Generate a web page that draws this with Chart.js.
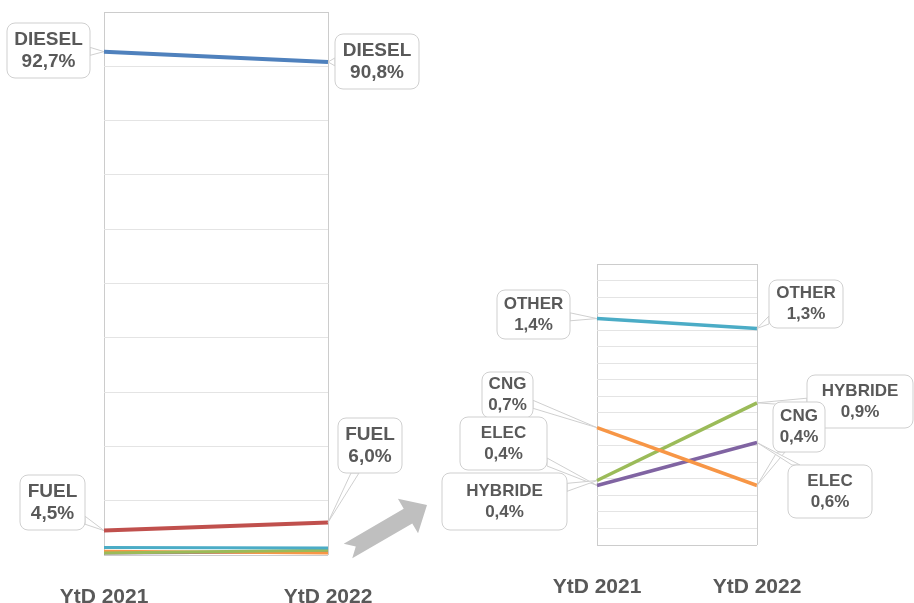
<!DOCTYPE html>
<html lang="fr">
<head>
<meta charset="UTF-8">
<title>Fuel mix YtD 2021 vs YtD 2022</title>
<script src="https://cdn.jsdelivr.net/npm/chart.js"></script>
<style>
  body { margin: 0; background: #fff; }
  #wrap { position: relative; width: 914px; height: 603px; }
  #leftBox { position: absolute; left: 0; top: 0; }
  #rightBox { position: absolute; left: 430px; top: 0; }
</style>
</head>
<body>
<div id="wrap">
  <div id="leftBox"><canvas id="allChart" width="460" height="603"></canvas></div>
  <div id="rightBox"><canvas id="zoomChart" width="484" height="603"></canvas></div>
</div>
<script>
// values (%)
const years = ["YtD 2021", "YtD 2022"];
const diesel = [92.7, 90.8];
const fuel = [4.5, 6.0];
const other = [1.37, 1.31];
const cng = [0.71, 0.36];
const elec = [0.36, 0.62];
const hybride = [0.39, 0.86];

const FONT = '"Liberation Sans", Arial, sans-serif';
const TEXT = "#595959";

function pct(v) {
    return v.toFixed(1).replace(".", ",") + "%";
}

function line(label, data, color, width) {
    return {
        label: label, data: data, borderColor: color, backgroundColor: color,
        borderWidth: width, pointRadius: 0, tension: 0, clip: false
    };
}

function rrect(ctx, x, y, w, h, r) {
    ctx.beginPath();
    ctx.moveTo(x + r, y);
    ctx.arcTo(x + w, y, x + w, y + h, r);
    ctx.arcTo(x + w, y + h, x, y + h, r);
    ctx.arcTo(x, y + h, x, y, r);
    ctx.arcTo(x, y, x + w, y, r);
    ctx.closePath();
}

// callout boxes with a thin pointer to the end of a line
function makeCallouts(items, size, gap) {
    return {
        id: "callouts",
        afterDatasetsDraw(chart) {
            const ctx = chart.ctx;
            const xs = chart.scales.x, ys = chart.scales.y;
            ctx.save();
            items.forEach(it => {
                const tx = xs.getPixelForValue(it.i);
                const ty = ys.getPixelForValue(it.data[it.i]);
                const [bx, by, bw, bh] = it.box;
                const cx = bx + bw / 2, cy = by + bh / 2;
                // where the ray centre -> target leaves the box
                const dx = tx - cx, dy = ty - cy;
                const sx = Math.abs(dx) > 0 ? (bw / 2) / Math.abs(dx) : Infinity;
                const sy = Math.abs(dy) > 0 ? (bh / 2) / Math.abs(dy) : Infinity;
                const s = Math.min(sx, sy);
                const ex = cx + dx * s, ey = cy + dy * s;
                let p1, p2;
                if (sx < sy) {
                    const yy = Math.max(by + 8, Math.min(by + bh - 8, ey));
                    p1 = [ex, yy - 4]; p2 = [ex, yy + 4];
                } else {
                    const xx = Math.max(bx + 8, Math.min(bx + bw - 8, ex));
                    p1 = [xx - 4, ey]; p2 = [xx + 4, ey];
                }
                ctx.beginPath();
                ctx.moveTo(p1[0], p1[1]);
                ctx.lineTo(tx, ty);
                ctx.lineTo(p2[0], p2[1]);
                ctx.closePath();
                ctx.fillStyle = "#fff";
                ctx.fill();
                ctx.strokeStyle = "#cfcfcf";
                ctx.lineWidth = 1;
                ctx.stroke();

                rrect(ctx, bx, by, bw, bh, 8);
                ctx.fillStyle = "#fff";
                ctx.fill();
                ctx.stroke();

                ctx.fillStyle = TEXT;
                ctx.font = "bold " + size + "px " + FONT;
                ctx.textAlign = "center";
                ctx.textBaseline = "middle";
                ctx.fillText(it.name, cx, cy - gap / 2);
                ctx.fillText(pct(it.data[it.i]), cx, cy + gap / 2);
            });
            ctx.restore();
        }
    };
}

// grey block arrow pointing to the zoomed chart
const arrowPlugin = {
    id: "arrow",
    afterDraw(chart) {
        const ctx = chart.ctx;
        const x0 = 348, y0 = 551, x1 = 427, y1 = 505;
        const a = Math.atan2(y1 - y0, x1 - x0);
        const L = Math.hypot(x1 - x0, y1 - y0);
        const pts = [[0, -8.5], [L - 22, -8.5], [L - 22, -20], [L, 0], [L - 22, 20], [L - 22, 8.5], [0, 8.5], [9, 0]];
        ctx.save();
        ctx.translate(x0, y0);
        ctx.rotate(a);
        ctx.beginPath();
        pts.forEach((p, k) => k ? ctx.lineTo(p[0], p[1]) : ctx.moveTo(p[0], p[1]));
        ctx.closePath();
        ctx.fillStyle = "#bfbfbf";
        ctx.fill();
        ctx.restore();
    }
};

function scales(max, step, xHeight, pad) {
    return {
        x: {
            type: "category",
            offset: false,
            grid: { color: "#cccccc", drawTicks: false },
            border: { display: false },
            ticks: {
                color: TEXT, padding: pad, maxRotation: 0, autoSkip: false,
                font: { family: FONT, size: 21, weight: "bold" }
            },
            afterFit: s => { s.height = xHeight; }
        },
        y: {
            min: 0, max: max,
            ticks: { display: false, stepSize: step },
            grid: {
                drawTicks: false,
                color: c => (Math.abs(c.tick.value - max) < 1e-6 || c.tick.value === 0) ? "#cccccc" : "#e4e4e4"
            },
            border: { display: false },
            afterFit: s => { s.width = 0; }
        }
    };
}

new Chart(document.getElementById("allChart"), {
    type: "line",
    data: {
        labels: years,
        datasets: [
            line("DIESEL", diesel, "#4f81bd", 4),
            line("FUEL", fuel, "#c0504d", 4),
            line("OTHER", other, "#4bacc6", 3),
            line("HYBRIDE", hybride, "#9bbb59", 3),
            line("CNG", cng, "#f79646", 3),
            line("ELEC", elec, "#8064a2", 3)
        ]
    },
    options: {
        responsive: false,
        animation: false,
        layout: { padding: { left: 104, right: 132, top: 12, bottom: 0 } },
        plugins: { legend: { display: false }, tooltip: { enabled: false } },
        scales: scales(100, 10, 48, 30)
    },
    plugins: [
        makeCallouts([
            { name: "DIESEL", data: diesel, i: 0, box: [7, 23, 83, 55] },
            { name: "DIESEL", data: diesel, i: 1, box: [335, 34, 84, 55] },
            { name: "FUEL", data: fuel, i: 0, box: [20, 475, 65, 55] },
            { name: "FUEL", data: fuel, i: 1, box: [338, 418, 64, 55] }
        ], 19, 22),
        arrowPlugin
    ]
});

new Chart(document.getElementById("zoomChart"), {
    type: "line",
    data: {
        labels: years,
        datasets: [
            line("OTHER", other, "#4bacc6", 3.5),
            line("CNG", cng, "#f79646", 3.5),
            line("HYBRIDE", hybride, "#9bbb59", 3.5),
            line("ELEC", elec, "#8064a2", 3.5)
        ]
    },
    options: {
        responsive: false,
        animation: false,
        layout: { padding: { left: 167, right: 157, top: 264, bottom: 0 } },
        plugins: { legend: { display: false }, tooltip: { enabled: false } },
        scales: scales(1.7, 0.1, 58, 30)
    },
    plugins: [
        makeCallouts([
            { name: "OTHER", data: other, i: 0, box: [67, 290, 73, 49] },
            { name: "OTHER", data: other, i: 1, box: [339, 280, 74, 48] },
            { name: "CNG", data: cng, i: 0, box: [52, 372, 51, 46] },
            { name: "ELEC", data: elec, i: 0, box: [30, 417, 87, 53] },
            { name: "HYBRIDE", data: hybride, i: 0, box: [12, 473, 125, 57] },
            { name: "HYBRIDE", data: hybride, i: 1, box: [377, 375, 106, 53] },
            { name: "CNG", data: cng, i: 1, box: [343, 402, 52, 50] },
            { name: "ELEC", data: elec, i: 1, box: [358, 465, 84, 53] }
        ], 17, 21)
    ]
});
</script>
</body>
</html>
